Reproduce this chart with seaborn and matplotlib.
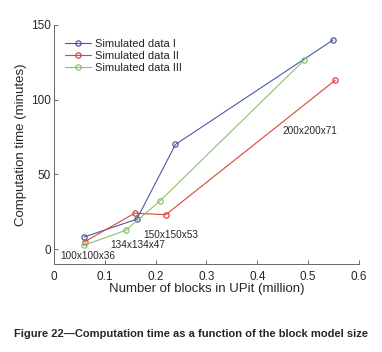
import matplotlib
matplotlib.use("Agg")
import matplotlib.pyplot as plt
import seaborn as sns
import pandas as pd

sns.set_style("ticks")
plt.rcParams['font.family'] = ['Liberation Sans', 'DejaVu Sans']

series_names = ["Simulated data I", "Simulated data II", "Simulated data III"]
x_I = [0.059, 0.163, 0.239, 0.549]
y_I = [8, 20, 70, 140]
x_II = [0.061, 0.159, 0.220, 0.553]
y_II = [5, 24, 23, 113]
x_III = [0.059, 0.141, 0.208, 0.492]
y_III = [2.5, 12.5, 32, 126.5]
colors = ["#4c5aa6", "#d9463a", "#86c36e"]

size_labels = ["100x100x36", "134x134x47", "150x150x53", "200x200x71"]
size_label_pos = [(0.012, -4.5), (0.110, 3), (0.176, 9.5), (0.449, 79)]

xticks = [0, 0.1, 0.2, 0.3, 0.4, 0.5, 0.6]
xticklabels = ["0", "0.1", "0.2", "0.3", "0.4", "0.5", "0.6"]
yticks = [0, 50, 100, 150]

fig = plt.figure(figsize=(3.82, 3.52), dpi=100)
ax = fig.add_axes([0.141, 0.25, 0.799, 0.679])

for name, xs, ys, c in zip(series_names, [x_I, x_II, x_III], [y_I, y_II, y_III], colors):
    df = pd.DataFrame({"x": xs, "y": ys})
    sns.lineplot(data=df, x="x", y="y", ax=ax, color=c, marker="o",
                 markersize=3.8, mfc="none", mec=c, mew=0.9, linewidth=0.8,
                 label=name)

for t, (tx, ty) in zip(size_labels, size_label_pos):
    ax.text(tx, ty, t, fontsize=7.2, va="center", ha="left")

ax.set_xlim(0, 0.6)
ax.set_ylim(-10, 150)
ax.set_xticks(xticks)
ax.set_xticklabels(xticklabels)
ax.set_yticks(yticks)
ax.tick_params(direction="in", length=3, labelsize=8.5, width=0.6, pad=5, color="#555555")
ax.tick_params(axis="y", pad=2)
sns.despine(ax=ax)
for s in ["left", "bottom"]:
    ax.spines[s].set_linewidth(0.7)
    ax.spines[s].set_color("#666666")
ax.set_xlabel("Number of blocks in UPit (million)", fontsize=9.5, labelpad=0)
ax.set_ylabel("Computation time (minutes)", fontsize=9.5, labelpad=3)

leg = ax.legend(loc="upper left", bbox_to_anchor=(0.01, 0.975), frameon=False,
                fontsize=8, handlelength=2.4, handletextpad=0.35, labelspacing=0.18,
                borderaxespad=0.3)

fig.text(0.5, 0.052, "Figure 22\u2014Computation time as a function of the block model size",
         ha="center", va="center", fontsize=8.05, fontweight="bold")

fig.savefig("out.png", dpi=100)
